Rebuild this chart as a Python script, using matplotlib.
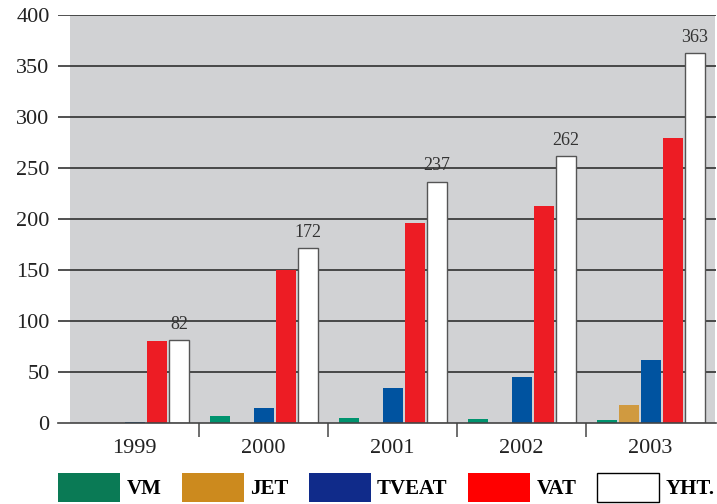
import matplotlib
matplotlib.use("Agg")
import matplotlib.pyplot as plt
from matplotlib.patches import Patch
import numpy as np

years = ["1999", "2000", "2001", "2002", "2003"]
series = ["VM", "JET", "TVEAT", "VAT", "YHT."]
vm = [0, 7, 5, 4, 3]
jet = [0, 0, 0, 0, 18]
tveat = [1, 15, 35, 45, 62]
vat = [81, 150, 196, 213, 280]
yht = [82, 172, 237, 262, 363]
yticks = [0, 50, 100, 150, 200, 250, 300, 350, 400]

bar_colors = ["#00936e", "#d09a40", "#0053a0", "#ed1c24", "#ffffff"]
legend_colors = ["#0a7a55", "#cc8a1e", "#102b8a", "#ff0000", "#ffffff"]

plt.rcParams['font.family'] = ['Liberation Serif', 'DejaVu Serif']

fig = plt.figure(figsize=(7.17, 5.04), dpi=100)
W, H = 717, 504
ax = fig.add_axes([58 / W, 1 - 423.3 / H, (716 - 58) / W, (423.3 - 15.3) / H])
ax.set_ylim(0, 400)
ax.set_xlim(-0.593, 4.508)
ax.axvspan(-0.5, 4.5, color="#d1d2d4", zorder=0, lw=0)

for y in yticks[1:]:
    ax.axhline(y, color="#222222", lw=1.1, zorder=1)

x = np.arange(len(years))
data = [vm, jet, tveat, vat, yht]
step = 0.1705
width = 0.155
for k, (vals, col) in enumerate(zip(data, bar_colors)):
    pos = x + (k - 2) * step + 0.004
    if k == 4:
        ax.bar(pos, vals, width=width, color=col, edgecolor="#555555", lw=1.0, zorder=3)
        for p, v in zip(pos, vals):
            ax.text(p, v + 7, str(v), ha="center", va="bottom", fontsize=13, color="#333333", zorder=4)
    else:
        ax.bar(pos, vals, width=width, color=col, lw=0, zorder=3)

for s in ["top", "right", "left"]:
    ax.spines[s].set_visible(False)
ax.spines["bottom"].set_color("#444444")
ax.spines["bottom"].set_linewidth(1.2)
ax.spines["bottom"].set_zorder(5)

ax.set_yticks(yticks)
ax.set_yticklabels([str(v) for v in yticks], fontsize=16, color="#222222")
ax.tick_params(axis="y", length=0, pad=6)

ax.set_xticks(x)
ax.set_xticklabels(years, fontsize=16, color="#222222")
ax.tick_params(axis="x", length=0, pad=11)
ax.set_xticks([0.5, 1.5, 2.5, 3.5], minor=True)
ax.tick_params(axis="x", which="minor", length=10, width=1.2, color="#555555")

handles = [Patch(facecolor=c, edgecolor=("black" if i == 4 else c), lw=(1.0 if i == 4 else 0))
           for i, c in enumerate(legend_colors)]
leg = fig.legend(handles, series, loc="upper left", bbox_to_anchor=(58 / W, 1 - 473 / H),
                 ncol=5, frameon=False, prop={"family": "Liberation Serif", "weight": "bold", "size": 15},
                 handlelength=2.98, handleheight=1.8, handletextpad=0.3, columnspacing=0.98,
                 borderpad=0, borderaxespad=0)

fig.savefig("out.png", dpi=100)
